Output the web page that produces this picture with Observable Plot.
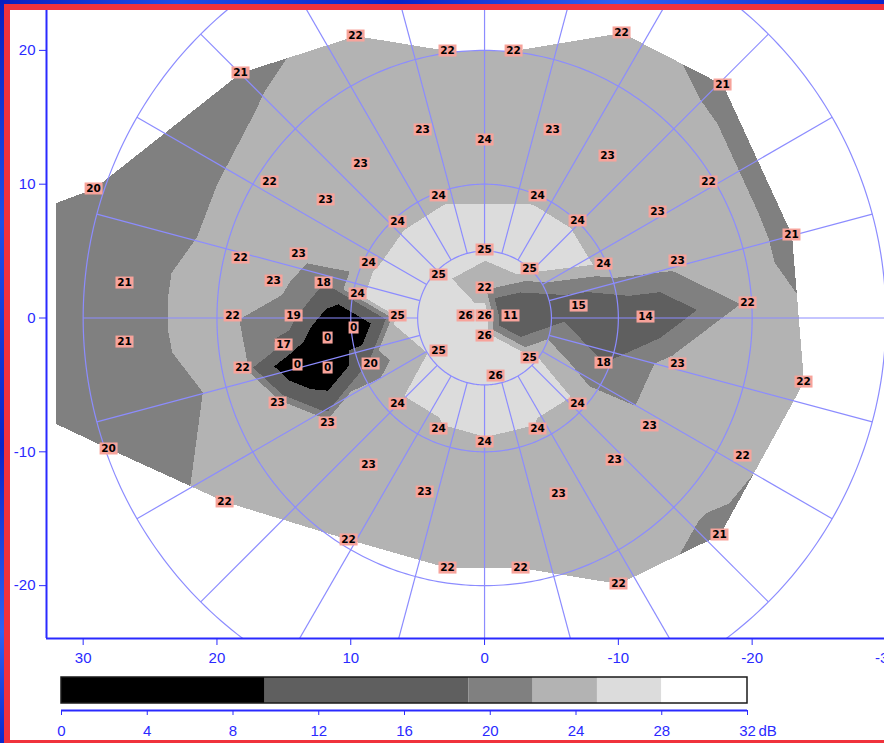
<!DOCTYPE html>
<html>
<head>
<meta charset="utf-8">
<script src="https://cdn.jsdelivr.net/npm/d3@7"></script>
<script src="https://cdn.jsdelivr.net/npm/@observablehq/plot@0.6"></script>
<style>
html, body { margin: 0; padding: 0; overflow: hidden; background: #fff; width: 884px; height: 743px; }
#wrap { position: relative; width: 884px; height: 743px; overflow: hidden; background: #fff; }
#map { position: absolute; left: 0; top: 0; width: 930px; }
#bar { position: absolute; left: 0; top: 670px; width: 884px; }
.edge { position: absolute; }
</style>
</head>
<body>
<div id="wrap">
  <div id="map"></div>
  <div id="bar"></div>
  <div class="edge" style="left:0;top:0;width:884px;height:4px;background:linear-gradient(90deg,#0a1fc0,#1e4fe8 20%,#0a24c8 45%,#2f62f2 70%,#0b28cc 100%)"></div>
  <div class="edge" style="left:0;top:0;width:4px;height:743px;background:linear-gradient(180deg,#0a1fc0,#1e4fe8 30%,#0a24c8 60%,#2f62f2 85%,#0b28cc 100%)"></div>
  <div class="edge" style="left:4px;top:4px;width:880px;height:6px;background:#f0323c"></div>
  <div class="edge" style="left:4px;top:4px;width:6px;height:739px;background:#f0323c"></div>
  <div class="edge" style="left:4px;top:740px;width:880px;height:3px;background:#f0323c"></div>
</div>
<script>
// ---- data: test locations (degrees) and sensitivities (dB) ----
const locX = [9.64, 2.77, -2.17, -10.24, 18.24, -17.79, 4.63, 0, -5.08, 9.27,
  -9.19, 16.07, 11.88, 29.22, -16.74, -12.93, -22.94, 3.44, -3.96, 6.50,
  -6.95, 0, 13.90, 18.24, 8.67, -8.89, -14.42, 3.44, -3.36, 26.91,
  15.77, 12.03, 0, 9.49, 18.83, 14.27, 9.79, 6.50, 1.42, 0,
  -1.94, -7.03, -12.03, -19.66, 11.73, 26.91, 15.02, 0, 3.44, 8.52,
  -3.36, 13.98, 18.09, 11.73, -8.89, -14.42, -0.82, -23.84, 15.47, 6.50,
  -6.95, 11.73, -12.33, 3.44, -3.96, 0, 28.10, -19.28, 8.67, -9.72,
  4.48, -5.53, 19.43, -17.56, 10.16, 2.77, -2.69, -10.01];
const locY = [21.11, 19.99, 19.99, 21.34, 18.35, 17.45, 14.09, 13.34, 14.09, 11.55,
  12.14, 10.20, 8.86, 9.68, 10.20, 7.96, 6.24, 9.16, 9.16, 7.21,
  7.29, 5.12, 4.82, 4.52, 4.15, 4.07, 4.30, 3.25, 3.70, 2.65,
  2.80, 2.65, 2.28, 1.83, 0.19, 0.19, -0.71, 0.19, 0.19, 0.19,
  0.19, 0.93, 0.11, 1.16, -1.46, -1.76, -1.98, -1.31, -2.43, -3.40,
  -2.95, -3.48, -3.70, -3.70, -3.33, -3.40, -4.30, -4.75, -6.32, -6.39,
  -6.39, -7.81, -8.03, -8.26, -8.26, -9.23, -9.75, -10.28, -10.95, -10.58,
  -12.97, -13.12, -13.71, -16.18, -16.55, -18.65, -18.65, -19.84];
const sensitivity = [22, 22, 22, 22, 21, 21, 23, 24, 23, 23,
  23, 22, 23, 20, 22, 23, 21, 24, 24, 24,
  24, 25, 23, 22, 24, 24, 23, 25, 25, 21,
  23, 18, 22, 24, 22, 19, 0, 25, 26, 26,
  11, 15, 14, 22, 0, 21, 17, 26, 25, 20,
  25, 0, 22, 0, 18, 23, 26, 22, 23, 24,
  24, 23, 23, 24, 24, 24, 20, 22, 23, 23,
  23, 23, 22, 21, 22, 22, 22, 22];
// extrapolated rim of the grey map on the temporal side
const rimX = [32.06, 32.06];
const rimY = [8.63, -7.88];
const rimValue = [20, 20];

const xTicks = [30, 20, 10, 0, -10, -20, -30];
const yTicks = [20, 10, 0, -10, -20];
const bandThresholds = [9.5, 18, 21.4, 24.15, 27.5];
const bandColors = ["#000000", "#5f5f5f", "#808080", "#b3b3b3", "#dcdcdc", "#ffffff"];
const legendStops = [0, 9.5, 19, 22, 25, 28, 32];
const legendTicks = [0, 4, 8, 12, 16, 20, 24, 28, 32];
const gridRadii = [5, 10, 20, 30];
const spokeAngles = d3.range(0, 360, 15);

const BLUE = "#2a2aff";
const GRID = "#8c8cff";
const LABEL_BG = "#f7a39b";

// ---- interpolation over a triangulation of the test locations ----
const points = locX.map((x, i) => ({x, y: locY[i], v: sensitivity[i]}));
const all = points.concat(rimX.map((x, i) => ({x, y: rimY[i], v: rimValue[i]})));
const del = d3.Delaunay.from(all, d => d.x, d => d.y);
const T = del.triangles, nT = T.length / 3;
const alive = new Uint8Array(nT).fill(1);
const ek = (a, b) => a < b ? a * 1000 + b : b * 1000 + a;
const edgeTris = new Map();
for (let t = 0; t < nT; t++) for (let k = 0; k < 3; k++) {
  const key = ek(T[3*t+k], T[3*t+(k+1)%3]);
  if (!edgeTris.has(key)) edgeTris.set(key, []);
  edgeTris.get(key).push(t);
}
function angleAt(c, a, b) {
  const ux = all[a].x - all[c].x, uy = all[a].y - all[c].y;
  const vx = all[b].x - all[c].x, vy = all[b].y - all[c].y;
  return Math.acos(Math.max(-1, Math.min(1, (ux*vx + uy*vy) / Math.hypot(ux, uy) / Math.hypot(vx, vy)))) * 180 / Math.PI;
}
let changed = true;
while (changed) {
  changed = false;
  for (let t = 0; t < nT; t++) {
    if (!alive[t]) continue;
    for (let k = 0; k < 3; k++) {
      const a = T[3*t+k], b = T[3*t+(k+1)%3], c = T[3*t+(k+2)%3];
      const n = edgeTris.get(ek(a, b)).filter(s => alive[s]).length;
      if (n === 1 && angleAt(c, a, b) > 160) { alive[t] = 0; changed = true; break; }
    }
  }
}
const cell = 2, gx0 = -36, gy0 = -28, gnx = 36, gny = 28;
const buckets = Array.from({length: gnx * gny}, () => []);
for (let t = 0; t < nT; t++) {
  if (!alive[t]) continue;
  const A = all[T[3*t]], B = all[T[3*t+1]], C = all[T[3*t+2]];
  const det = (B.y - C.y) * (A.x - C.x) + (C.x - B.x) * (A.y - C.y);
  const tr = {A, B, C, det};
  const ix0 = Math.floor((Math.min(A.x, B.x, C.x) - gx0) / cell), ix1 = Math.floor((Math.max(A.x, B.x, C.x) - gx0) / cell);
  const iy0 = Math.floor((Math.min(A.y, B.y, C.y) - gy0) / cell), iy1 = Math.floor((Math.max(A.y, B.y, C.y) - gy0) / cell);
  for (let iy = iy0; iy <= iy1; iy++) for (let ix = ix0; ix <= ix1; ix++) buckets[iy * gnx + ix].push(tr);
}
function sample(x, y) {
  const ix = Math.floor((x - gx0) / cell), iy = Math.floor((y - gy0) / cell);
  if (ix < 0 || iy < 0 || ix >= gnx || iy >= gny) return NaN;
  for (const {A, B, C, det} of buckets[iy * gnx + ix]) {
    const l1 = ((B.y - C.y) * (x - C.x) + (C.x - B.x) * (y - C.y)) / det;
    const l2 = ((C.y - A.y) * (x - C.x) + (A.x - C.x) * (y - C.y)) / det;
    const l3 = 1 - l1 - l2;
    if (l1 >= -1e-9 && l2 >= -1e-9 && l3 >= -1e-9) return l1 * A.v + l2 * B.v + l3 * C.v;
  }
  return NaN;
}

// ---- scales (13.38 px per degree) ----
const xDom = [32.74, -33.33];
const yDom = [-23.95, 22.98];

const box = (w, h) => ({draw(ctx) {
  ctx.moveTo(-w/2, -h/2); ctx.lineTo(w/2, -h/2); ctx.lineTo(w/2, h/2); ctx.lineTo(-w/2, h/2); ctx.closePath();
}});

const circlePts = gridRadii.flatMap(r => d3.range(0, 361, 1).map(a => ({r, x: r * Math.cos(a * Math.PI / 180), y: r * Math.sin(a * Math.PI / 180)})));
const rIn = gridRadii[0], rOut = gridRadii[gridRadii.length - 1];

const map = Plot.plot({
  width: 930, height: 670,
  marginLeft: 46, marginRight: 0, marginTop: 10, marginBottom: 32,
  style: {background: "transparent", maxWidth: "none", fontFamily: "'Liberation Sans', Arial, sans-serif", fontSize: "15px", overflow: "visible"},
  x: {domain: xDom},
  y: {domain: yDom},
  color: {type: "threshold", domain: bandThresholds, range: bandColors, unknown: "#ffffff"},
  marks: [
    Plot.raster({fill: sample, x1: xDom[0], x2: xDom[1], y1: yDom[1], y2: yDom[0], pixelSize: 1, imageRendering: "pixelated"}),
    Plot.line(circlePts, {x: "x", y: "y", z: "r", stroke: GRID, strokeWidth: 1.2, clip: true}),
    Plot.link(spokeAngles, {
      x1: a => rIn * Math.cos(a * Math.PI / 180), y1: a => rIn * Math.sin(a * Math.PI / 180),
      x2: a => rOut * Math.cos(a * Math.PI / 180), y2: a => rOut * Math.sin(a * Math.PI / 180),
      stroke: GRID, strokeWidth: 1.2, clip: true
    }),
    Plot.ruleX([xDom[0]], {stroke: BLUE, strokeWidth: 2}),
    Plot.ruleY([yDom[0]], {stroke: BLUE, strokeWidth: 2}),
    Plot.axisX(xTicks, {tickSize: 7, tickPadding: 7, tickFormat: d => String(d), color: BLUE, fontSize: 15, label: null}),
    Plot.axisY(yTicks, {tickSize: 7, tickPadding: 4, tickFormat: d => String(d), color: BLUE, fontSize: 15, label: null}),
    Plot.dot(points.filter(d => d.v >= 10), {x: "x", y: "y", symbol: box(18, 12), fill: LABEL_BG, stroke: "none"}),
    Plot.dot(points.filter(d => d.v < 10), {x: "x", y: "y", symbol: box(10, 12), fill: LABEL_BG, stroke: "none"}),
    Plot.text(points, {x: "x", y: "y", text: d => String(d.v), fill: "#000", fontSize: 10.5, fontWeight: "bold", fontFamily: "'DejaVu Sans', sans-serif"})
  ]
});
document.getElementById("map").appendChild(map);

// ---- colour bar ----
const bands = legendStops.slice(0, -1).map((s, i) => ({x1: s, x2: legendStops[i + 1], c: bandColors[i]}));
const bar = Plot.plot({
  width: 884, height: 73,
  marginLeft: 61, marginRight: 137, marginTop: 7, marginBottom: 33,
  style: {background: "transparent", maxWidth: "none", fontFamily: "'Liberation Sans', Arial, sans-serif", fontSize: "15px", overflow: "visible"},
  x: {domain: [legendStops[0], legendStops[legendStops.length - 1]]},
  y: {domain: [0, 1], axis: null},
  marks: [
    Plot.rect(bands, {x1: "x1", x2: "x2", fill: "c", insetBottom: 7}),
    Plot.rect([legendStops], {x1: d => d[0], x2: d => d[d.length - 1], fill: "none", stroke: "#1a1a1a", strokeWidth: 1.5, insetBottom: 7}),
    Plot.ruleY([0], {x1: legendStops[0], x2: legendStops[legendStops.length - 1], stroke: BLUE, strokeWidth: 2}),
    Plot.axisX(legendTicks, {tickSize: 5, tickPadding: 10, tickFormat: d => String(d), color: BLUE, fontSize: 15, label: null}),
    Plot.text(["dB"], {x: () => legendStops[legendStops.length - 1], frameAnchor: "bottom", dx: 11, dy: 25, textAnchor: "start", fill: BLUE, fontSize: 15})
  ]
});
document.getElementById("bar").appendChild(bar);
</script>
</body>
</html>
